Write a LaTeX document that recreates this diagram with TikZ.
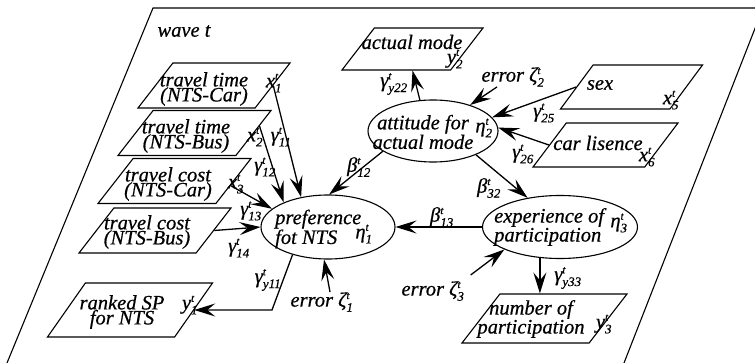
\documentclass[tikz,border=0pt]{standalone}
\usepackage{fontspec}
\setmainfont{Liberation Serif}[ItalicFeatures={FakeBold=0.6}]
\usetikzlibrary{shapes.geometric,arrows.meta,calc}
\newcommand\sy[3]{\mbox{#1}$^{\mbox{\fontsize{11}{11}\selectfont\itshape #2}}_{\mbox{\fontsize{13}{13}\selectfont #3}}$}
\begin{document}
\begin{tikzpicture}[x=1pt,y=-1pt,
  every node/.style={font=\fontsize{20.5}{15}\selectfont\itshape, inner sep=0pt},
  pbox/.style={draw, trapezium, trapezium left angle=67, trapezium right angle=113,
    trapezium stretches=true, minimum width=#1, minimum height=45pt, inner sep=2pt, line width=1.1pt},
  ell/.style={draw, ellipse, line width=1.1pt},
  arr/.style={line width=1.3pt, -{Stealth[length=21pt,width=13pt,inset=8pt]}}]
\useasboundingbox (0,0) rectangle (755,363);
\begin{scope}
\clip (0,0) rectangle (755,363);
\draw[line width=1.1pt] (7,363) -- (153,8) -- (763,8) -- (624,363);
\end{scope}
\node (wave) at (184,31) {wave t};
% boxes
\node[pbox=152] (b1) at (214,85.5) {};
\node[pbox=153] (b2) at (194.5,133) {};
\node[pbox=153] (b3) at (174.5,181) {};
\node[pbox=152] (b4) at (155,230.5) {};
\node[pbox=165, minimum height=54pt] (b5) at (130,310) {};
\node[pbox=141, minimum height=42pt] (am) at (412.5,49) {};
\node[pbox=142, minimum height=44pt] (sx) at (631.5,87) {};
\node[pbox=145, minimum height=44pt] (cl) at (605.5,145) {};
\node[pbox=165, minimum height=49pt] (np) at (544.5,318.5) {};
% ellipses
\node[ell, minimum width=130pt, minimum height=62pt] (att) at (433,131) {};
\node[ell, minimum width=134pt, minimum height=64pt] (pref) at (328,227) {};
\node[ell, minimum width=155pt, minimum height=63pt] (exp) at (560,227) {};
% texts
\node[align=center] (t1) at (204,89) {travel time\\(NTS-Car)};
\node[align=center] (t2) at (186,136) {travel time\\(NTS-Bus)};
\node[align=center] (t3) at (168,184) {travel cost\\(NTS-Car)};
\node[align=center] (t4) at (147,232) {travel cost\\(NTS-Bus)};
\node[align=center] (t5) at (122,312) {ranked SP\\for NTS};
\node (t6) at (412,42) {actual mode};
\node (t7) at (600,85) {sex};
\node (t8) at (598,143) {car lisence};
\node[align=center] (t9) at (531,319) {number of\\participation};
\node[align=center] (t10) at (423,132) {attitude for\\actual mode};
\node[align=left, anchor=west] (t11) at (275,229) {preference\\fot NTS};
\node[align=left, anchor=west] (t12) at (494,227) {experience of\\participation};
% variable labels
\node (x1) at (274,83) {\sy{x}{t}{1}};
\node (x2) at (255,137) {\sy{x}{t}{2}};
\node (x3) at (236,184) {\sy{x}{t}{3}};
\node (y1) at (190,305) {\sy{y}{t}{1}};
\node (y2) at (455,59) {\sy{y}{t}{2}};
\node (x5) at (671,100) {\sy{x}{t}{5}};
\node (x6) at (647,157) {\sy{x}{t}{6}};
\node (y3) at (604,324) {\sy{y}{t}{3}};
\node (h1) at (364,234) {\sy{η}{t}{1}};
\node (h2) at (484,128) {\sy{η}{t}{2}};
\node (h3) at (619,223) {\sy{η}{t}{3}};
% coefficient labels
\node (g11) at (281,137) {\sy{γ}{t}{11}};
\node (g12) at (265,167) {\sy{γ}{t}{12}};
\node (g13) at (251,211) {\sy{γ}{t}{13}};
\node (g14) at (239,248) {\sy{γ}{t}{14}};
\node (gy11) at (268,280) {\sy{γ}{t}{\textit{y}11}};
\node (gy22) at (394,84) {\sy{γ}{t}{\textit{y}22}};
\node (g25) at (544,113) {\sy{γ}{t}{25}};
\node (g26) at (523,154) {\sy{γ}{t}{26}};
\node (gy33) at (568,278) {\sy{γ}{t}{\textit{y}33}};
\node (b12) at (359,167) {\sy{β}{t}{12}};
\node (b32) at (489,188) {\sy{β}{t}{32}};
\node (b13) at (442,217) {\sy{β}{t}{13}};
% errors
\node (e1) at (322,302) {error \sy{ζ}{t}{1}};
\node (e2) at (513,77) {error \sy{ζ}{t}{2}};
\node (e3) at (433,291) {error \sy{ζ}{t}{3}};
% connectors
\draw[arr] ($(b1.top right corner)!0.5!(b1.bottom right corner)$) -- (pref.132);
\draw[arr] ($(b2.top right corner)!0.35!(b2.bottom right corner)$) -- (pref.151);
\draw[arr] ($(b3.top right corner)!0.6!(b3.bottom right corner)$) -- (pref.162);
\draw[arr] (b4.east) -- (pref.west);
\coordinate (c5) at (272,310);
\draw[arr] (pref.218) -- (c5) -- (b5.east);
\draw[arr] ([xshift=8pt]e1.north) -- (pref.263);
\draw[arr] (att.202) -- (pref.88);
\draw[arr] (att.113) -- (am.south);
\draw[arr] ([xshift=-16pt]e2.south) -- (att.35);
\draw[arr] (sx.west) -- (att.13);
\draw[arr] (cl.west) -- (att.3);
\draw[arr] (att.331) -- (exp.138);
\draw[arr] (exp.west) -- (pref.east);
\draw[arr] ([shift={(6,-6)}]e3.north east) -- (exp.202);
\draw[arr] (exp.237) -- (exp.237 |- np.north);
\end{tikzpicture}
\end{document}
